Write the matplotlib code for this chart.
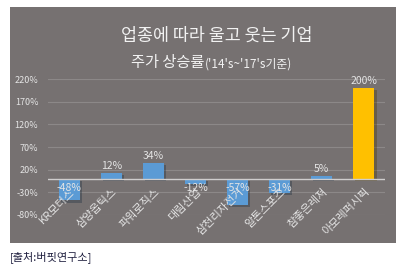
import matplotlib
matplotlib.use('Agg')
import matplotlib.pyplot as plt
import matplotlib.patheffects as pe
from matplotlib.patches import Rectangle

plt.rcParams['font.family'] = ['Noto Sans CJK KR', 'DejaVu Sans']

# 데이터
companies = ['KR모터스', '삼양옵틱스', '파워로직스', '대림산업',
             '삼천리자전거', '알톤스포츠', '참좋은레져', '아모레퍼시픽']
growth = [-48, 12, 34, -12, -57, -31, 5, 200]
yticks = [-80, -30, 20, 70, 120, 170, 220]

bg = '#767171'
blue = '#5B9BD5'
gold = '#FFC000'
light = '#E4E4E4'

fig = plt.figure(figsize=(4.01, 2.69), dpi=100)
fig.patch.set_facecolor('white')

# 회색 배경 판
fig.patches.append(Rectangle((10 / 401, 26 / 269), 386 / 401, 236 / 269,
                             transform=fig.transFigure, facecolor=bg,
                             edgecolor='none', zorder=-5))

ax = fig.add_axes([48 / 401, 54 / 269, 337 / 401, 136 / 269])
ax.set_zorder(2)
ax.set_facecolor('none')

colors = [gold if v == max(growth) else blue for v in growth]
x = list(range(len(companies)))
bars = ax.bar(x, growth, width=0.5, color=colors, zorder=3)
for b in bars:
    b.set_path_effects([pe.SimplePatchShadow(offset=(1.5, -1.5), alpha=0.35),
                        pe.Normal()])

ax.set_xlim(-0.5, len(companies) - 0.5)
ax.set_ylim(-80, 220)
ax.set_yticks(yticks)
ax.set_yticklabels([f'{t}%' for t in yticks], color=light, fontsize=6.5)
ax.tick_params(axis='y', length=0, pad=7)
ax.set_xticks([])
for s in ax.spines.values():
    s.set_visible(False)
ax.grid(axis='y', color='#8C8888', linewidth=0.8, zorder=1)
ax.axhline(0, color='#D0CECE', linewidth=1.0, zorder=4)

# 값 라벨
for i, v in enumerate(growth):
    if v >= 0:
        ax.annotate(f'{v}%', (i, v), xytext=(0, 1.5), textcoords='offset points',
                    ha='center', va='bottom', color=light, fontsize=7.5, zorder=5)
    else:
        ax.annotate(f'{v}%', (i, 0), xytext=(0, -3), textcoords='offset points',
                    ha='center', va='top', color=light, fontsize=7.5, zorder=5)

# 카테고리 라벨 (축이 0에서 교차)
for i, name in enumerate(companies):
    ax.annotate(name, (i + 0.1, 0), xytext=(0, -8), textcoords='offset points',
                rotation=45, rotation_mode='anchor', ha='right', va='center',
                color=light, fontsize=8, zorder=5, annotation_clip=False)

# 제목
fig.text(217 / 401, 1 - 36 / 269, '업종에 따라 울고 웃는 기업', ha='center',
         va='center', color='#F2F2F2', fontsize=12.5)
fig.text(131 / 401, 1 - 63 / 269, '주가 상승률', ha='left', va='center',
         color='#F2F2F2', fontsize=11)
fig.text(205 / 401, 1 - 64 / 269, "('14's~'17's기준)", ha='left', va='center',
         color='#F2F2F2', fontsize=8.5)

fig.text(10 / 401, 1 - 257 / 269, '[출처:버핏연구소]', ha='left', va='center',
         color='#1F1F3F', fontsize=8)

fig.savefig('out.png', dpi=100)
